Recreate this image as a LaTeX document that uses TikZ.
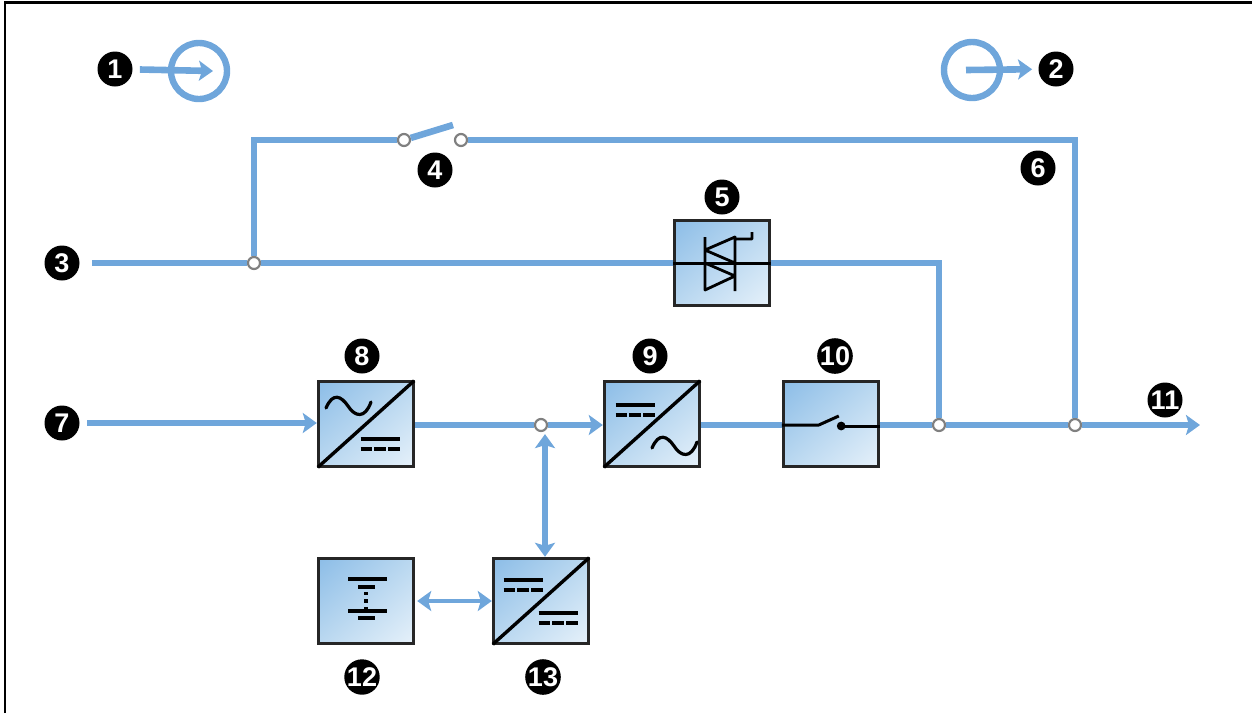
\documentclass[tikz,border=0pt]{standalone}
\usepackage{fontspec}
\setsansfont{Liberation Sans}
\usetikzlibrary{calc,shadings,arrows.meta}

\definecolor{feedblue}{HTML}{6FA6DB}
\definecolor{boxA}{HTML}{8CBDE7}
\definecolor{boxB}{HTML}{BAD8F0}
\definecolor{boxC}{HTML}{E6F1FA}

\tikzset{
  badge/.style={circle,fill=black,text=white,inner sep=0pt,minimum size=17.5pt,
    font=\sffamily\bfseries\fontsize{13.5}{13.5}\selectfont},
  ubox/.style={draw=black!85,line width=1.7pt,minimum width=47.5pt,minimum height=42.5pt,
    inner sep=0pt,upper left=boxA,upper right=boxB,lower left=boxB,lower right=boxC},
  junc/.style={circle,draw=black!50,fill=white,line width=1.1pt,inner sep=0pt,minimum size=6pt},
  ring/.style={circle,draw=feedblue,line width=3.2pt,inner sep=0pt,minimum size=28pt},
  feed/.style={draw=feedblue,line width=3.3pt},
  thinfeed/.style={draw=feedblue,line width=2.7pt},
  diag/.style={line width=1.7pt,shorten <=.7pt,shorten >=.7pt},
  dcbars/.pic={
    \draw[line width=1.7pt] (-19.5,-5) -- (19.5,-5);
    \draw[line width=1.7pt] (-19.5,5) -- (-8,5) (-6,5) -- (6,5) (8,5) -- (19.5,5);
  },
  sinewave/.pic={
    \draw[line width=1.6pt,line cap=round] (-22,2) .. controls (-15,-14) and (-7,-10) .. (0,0)
      .. controls (7,11) and (17,13) .. (23,-4);
  },
}

\begin{document}
\begin{tikzpicture}[x=.5pt,y=-.5pt,>={Stealth[length=7pt,width=10pt,inset=1.5pt]}]
  \useasboundingbox (0,0) rectangle (1252,713);
  \draw[line width=1.3pt] (5,713) -- (5,2.5) -- (1252,2.5);

  % boxes
  \node[ubox] (b_5)  at (722,263) {};
  \node[ubox] (b_8)  at (366,424) {};
  \node[ubox] (b_9)  at (652,424) {};
  \node[ubox] (b_10) at (831,424) {};
  \node[ubox] (b_12) at (366,601) {};
  \node[ubox] (b_13) at (541,601) {};

  % numbers
  \node[badge] (l_1)  at (115,69)  {1};
  \node[badge] (l_2)  at (1056,69) {2};
  \node[badge] (l_3)  at (62,263)  {3};
  \node[badge] (l_4)  at (435,170) {4};
  \node[badge] (l_5)  at (722,197) {5};
  \node[badge] (l_6)  at (1038,168) {6};
  \node[badge] (l_7)  at (62,423)  {7};
  \node[badge] (l_8)  at (362,356) {8};
  \node[badge] (l_9)  at (650,356) {9};
  \node[badge] (l_10) at (835,356) {10};
  \node[badge] (l_11) at (1165,400) {11};
  \node[badge] (l_12) at (362,677) {12};
  \node[badge] (l_13) at (543,677) {13};

  % legend rings
  \node[ring] (i_1) at (199,71) {};
  \node[ring] (i_2) at (972,70) {};
  \coordinate (t_1) at (213,71);
  \coordinate (c_2) at (966,70);
  \draw[->,feed,shorten <=3.5pt] (l_1) -- (t_1);
  \draw[->,feed,shorten >=3pt] (c_2) -- (l_2);

  % junctions and contacts
  \node[junc] (j_1) at (254,263) {};
  \node[junc] (j_2) at (541,425) {};
  \node[junc] (j_3) at (939,425) {};
  \node[junc] (j_4) at (1075,425) {};
  \node[junc] (s_1) at (404,140) {};
  \node[junc] (s_2) at (461,140) {};
  \coordinate (c_3) at (92,263);
  \coordinate (c_7) at (87,423);
  \coordinate (c_11) at (1200,425);
  \coordinate (s_3) at (453,125);

  % bypass and mains lines
  \draw[feed] (c_3) -- (j_1);
  \draw[feed] (j_1) -- (j_1 -| b_5.west);
  \draw[feed] (j_1) |- (s_1);
  \draw[feed] (s_2) -| (j_4);
  \draw[feed] (b_5.east) -| (j_3);
  \draw[feed] (s_1) -- (s_3);
  \draw[feed,->] (c_7) -- (c_7 -| b_8.west);
  \draw[feed] (j_2 -| b_8.east) -- (j_2);
  \draw[feed,->] (j_2) -- (j_2 -| b_9.west);
  \draw[feed] (j_2 -| b_9.east) -- (j_2 -| b_10.west);
  \draw[feed] (j_3 -| b_10.east) -- (j_3);
  \draw[feed] (j_3) -- (j_4);
  \draw[feed,->] (j_4) -- (c_11);
  \coordinate (v_1) at ($(j_2.south)+(4,2)$);
  \draw[thinfeed,<->] (v_1) -- (v_1 |- b_13.north);
  \draw[thinfeed,line width=2.2pt,<->] ($(b_12.east)+(2,0)$) -- (b_13.west);

  % symbols in the boxes
  \draw[diag] (b_8.south west) -- (b_8.north east);
  \draw[diag] (b_9.south west) -- (b_9.north east);
  \draw[diag] (b_13.south west) -- (b_13.north east);
  \pic at ($(b_8)+(-18,-18)$) {sinewave};
  \pic at ($(b_8)+(14,20)$) {dcbars};
  \pic at ($(b_9)+(-17,-14)$) {dcbars};
  \pic at ($(b_9)+(22,22)$) {sinewave};
  \pic at ($(b_13)+(-18,-16)$) {dcbars};
  \pic at ($(b_13)+(17,17)$) {dcbars};

  % static switch
  \draw[line width=1.5pt] (b_5.west) -- (b_5.east);
  \draw[line width=1.4pt,line join=round]
    ($(b_5)+(-17,-26)$) -- ($(b_5)+(-17,0)$)
    ($(b_5)+(-17,-13)$) -- ($(b_5)+(13,-26)$) -- ($(b_5)+(13,0)$) -- cycle
    ($(b_5)+(13,-24)$) -- ($(b_5)+(30,-24)$) -- ($(b_5)+(30,-31)$)
    ($(b_5)+(-17,0)$) -- ($(b_5)+(-17,27)$) -- ($(b_5)+(13,13)$) -- cycle
    ($(b_5)+(13,0)$) -- ($(b_5)+(13,28)$);

  % output switch
  \draw[line width=1.5pt,line join=round] (b_10.west |- j_3) -- ($(b_10.west |- j_3)+(37,0)$)
    -- ($(b_10.west |- j_3)+(57,-9)$);
  \fill ($(b_10.east |- j_3)+(-39,1)$) coordinate (d_1) circle (2.2pt);
  \draw[line width=1.5pt] (d_1) -- (d_1 -| b_10.east);

  % battery
  \draw[line width=1.7pt] ($(b_12)+(-18,-22)$) -- ($(b_12)+(21,-22)$)
    ($(b_12)+(-8,-14)$) -- ($(b_12)+(9,-14)$)
    ($(b_12)+(-18,10)$) -- ($(b_12)+(21,10)$)
    ($(b_12)+(-8,17)$) -- ($(b_12)+(9,17)$);
  \draw[line width=1.7pt,dotted] ($(b_12)+(0,-9)$) -- ($(b_12)+(0,9)$);
\end{tikzpicture}
\end{document}
